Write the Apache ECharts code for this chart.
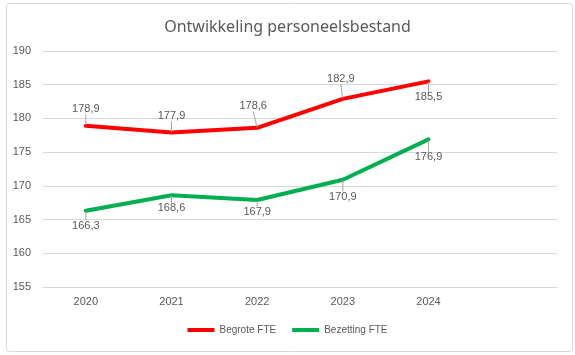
<!DOCTYPE html>
<html>
<head>
<meta charset="utf-8">
<script src="https://cdn.jsdelivr.net/npm/echarts@6/dist/echarts.min.js"></script>
<style>html,body{margin:0;padding:0;background:#fff}#c{width:575px;height:355px}</style>
</head>
<body>
<div id="c"></div>
<script>
const categories = ['2020', '2021', '2022', '2023', '2024', ''];
const begroteFTE = [178.9, 177.9, 178.6, 182.9, 185.5];
const bezettingFTE = [166.3, 168.6, 167.9, 170.9, 176.9];
const yTicks = [155, 160, 165, 170, 175, 180, 185, 190];
const seriesNames = ['Begrote FTE', 'Bezetting FTE'];
const titleText = 'Ontwikkeling personeelsbestand';

// label offsets (style) per series/point
const labelOffsets = [
  [[0, -17], [0, -17], [-4, -22], [-2, -20], [0, 16]],
  [[0, 15], [0, 13], [0, 12], [0, 17], [0, 18]]
];

const fmt = v => String(v.toFixed(1)).replace('.', ',');
const txt = '#595959';
const font = 'Liberation Sans';

function mkSeries(name, values, color) {
  return {
    name: name,
    type: 'line',
    data: values,
    symbol: 'circle',
    symbolSize: 1,
    showSymbol: true,
    itemStyle: { color: color },
    lineStyle: { width: 4, color: color, cap: 'round', join: 'round' },
    label: {
      show: true, position: 'inside',
      formatter: p => fmt(p.value),
      color: txt, fontSize: 11, fontFamily: font
    },
    labelLine: { show: true, lineStyle: { color: '#a6a6a6', width: 1 } },
    emphasis: { disabled: true },
    animation: false
  };
}

const chart = echarts.init(document.getElementById('c'), null, { renderer: 'canvas' });
chart.setOption({
  backgroundColor: '#fff',
  animation: false,
  title: {
    text: titleText, left: 'center', top: 14,
    textStyle: { color: txt, fontSize: 16, fontWeight: 'normal', fontFamily: 'Noto Sans' }
  },
  graphic: [{
    type: 'rect', left: 4, top: 1, z: -1,
    shape: { width: 566, height: 348, r: 3 },
    style: { fill: 'none', stroke: '#d9d9d9', lineWidth: 1 }
  }],
  legend: {
    bottom: 15, left: 'center',
    data: seriesNames,
    icon: 'rect', itemWidth: 27, itemHeight: 4, itemGap: 16,
    textStyle: { color: txt, fontSize: 10, fontFamily: font }
  },
  grid: { left: 43, right: 18, top: 51, bottom: 68 },
  xAxis: {
    type: 'category', data: categories, boundaryGap: true,
    axisLine: { show: true, lineStyle: { color: '#d9d9d9' } },
    axisTick: { show: false },
    axisLabel: { color: txt, fontSize: 11, fontFamily: font, interval: 0, margin: 9 }
  },
  yAxis: {
    type: 'value', min: yTicks[0], max: yTicks[yTicks.length - 1], interval: 5,
    axisLine: { show: false }, axisTick: { show: false },
    axisLabel: { color: txt, fontSize: 11, fontFamily: font, margin: 12 },
    splitLine: { lineStyle: { color: '#d9d9d9', width: 1 } }
  },
  series: [
    mkSeries(seriesNames[0], begroteFTE, '#FF0000'),
    mkSeries(seriesNames[1], bezettingFTE, '#00B050')
  ],
  labelLayout: function (p) {
    const o = labelOffsets[p.seriesIndex][p.dataIndex];
    return { dx: o[0], dy: o[1] };
  }
});
</script>
</body>
</html>
